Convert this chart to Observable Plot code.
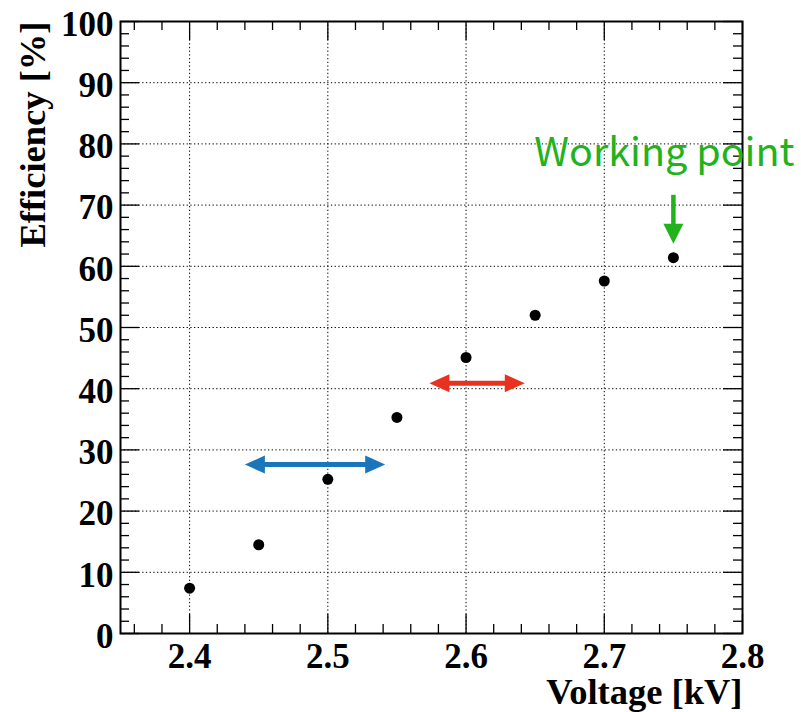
<!DOCTYPE html>
<html>
<head>
<meta charset="utf-8">
<script src="https://cdn.jsdelivr.net/npm/d3@7"></script>
<script src="https://cdn.jsdelivr.net/npm/@observablehq/plot@0.6"></script>
<style>
  html, body { margin: 0; padding: 0; background: #fff; }
  svg { display: block; }
</style>
</head>
<body>
<div id="chart"></div>
<script>
// ---- data ----
const voltage = [2.40, 2.45, 2.50, 2.55, 2.60, 2.65, 2.70, 2.75];
const efficiency = [7.4, 14.5, 25.2, 35.3, 45.1, 52.0, 57.6, 61.4];

const xTicks = [2.4, 2.5, 2.6, 2.7, 2.8];
const yTicks = [0, 10, 20, 30, 40, 50, 60, 70, 80, 90, 100];
const xMinor = d3.range(2.36, 2.8, 0.02).map(v => +v.toFixed(2)).filter(v => !xTicks.some(t => Math.abs(t - v) < 1e-9));
const yMinor = d3.range(2, 100, 2).filter(v => v % 10 !== 0);

const xLabel = "Voltage [kV]";
const yLabel = "Efficiency [%]";

// annotations (data coordinates)
const blueArrow = [{x1: 2.440, x2: 2.5415, y: 27.6}];
const redArrow = [{x1: 2.5735, x2: 2.6425, y: 40.9}];
const greenArrow = [{x: 2.750, y1: 71.6, y2: 63.7}];
const wpLabel = [{x: 2.7435, y: 78.4, text: "Working point"}];

const points = voltage.map((v, i) => ({v, e: efficiency[i]}));

const blue = "#1b75bb", red = "#e8311f", green = "#22b21c";

// filled arrowhead symbols, tip at the anchor point
const headRight = {draw(c) { c.moveTo(0, 0); c.lineTo(-20, -9); c.lineTo(-20, 9); c.closePath(); }};
const headLeft  = {draw(c) { c.moveTo(0, 0); c.lineTo(20, -9); c.lineTo(20, 9); c.closePath(); }};
const headDown  = {draw(c) { c.moveTo(0, 0); c.lineTo(-10, -20); c.lineTo(10, -20); c.closePath(); }};

const W = 801, H = 712, mL = 120, mR = 59, mT = 21, mB = 79;
const innerH = H - mT - mB, innerW = W - mL - mR;
const serif = "Liberation Serif, Times New Roman, serif";

const chart = Plot.plot({
  width: W, height: H,
  marginLeft: mL, marginRight: mR, marginTop: mT, marginBottom: mB,
  style: {background: "#fff", overflow: "visible"},
  x: {domain: [2.35, 2.8]},
  y: {domain: [0, 100]},
  marks: [
    // dotted grid
    Plot.ruleX(xTicks.filter(t => t < 2.8), {x: d => d, stroke: "#000", strokeWidth: 1, strokeDasharray: "1.3,2.4"}),
    Plot.ruleY(yTicks.filter(t => t > 0 && t < 100), {y: d => d, stroke: "#000", strokeWidth: 1, strokeDasharray: "1.3,2.4"}),
    // ticks (inward, all four sides)
    Plot.tickX(xTicks, {x: d => d, insetTop: innerH - 19, stroke: "#000", strokeWidth: 1.3}),
    Plot.tickX(xTicks, {x: d => d, insetBottom: innerH - 19, stroke: "#000", strokeWidth: 1.3}),
    Plot.tickX(xMinor, {x: d => d, insetTop: innerH - 9, stroke: "#000", strokeWidth: 1.3}),
    Plot.tickX(xMinor, {x: d => d, insetBottom: innerH - 9, stroke: "#000", strokeWidth: 1.3}),
    Plot.tickY(yTicks, {y: d => d, insetRight: innerW - 19, stroke: "#000", strokeWidth: 1.3}),
    Plot.tickY(yTicks, {y: d => d, insetLeft: innerW - 19, stroke: "#000", strokeWidth: 1.3}),
    Plot.tickY(yMinor, {y: d => d, insetRight: innerW - 9, stroke: "#000", strokeWidth: 1.3}),
    Plot.tickY(yMinor, {y: d => d, insetLeft: innerW - 9, stroke: "#000", strokeWidth: 1.3}),
    Plot.frame({stroke: "#000", strokeWidth: 2}),
    // axes labels
    Plot.axisX(xTicks, {anchor: "bottom", tickSize: 0, tickPadding: 10, tickFormat: d => d.toFixed(1),
      fontSize: 35, fontFamily: serif, fontWeight: "bold", label: null, fill: "#000"}),
    Plot.axisY(yTicks, {anchor: "left", tickSize: 0, tickPadding: 7, dy: 3,
      fontSize: 35, fontFamily: serif, fontWeight: "bold", label: null, fill: "#000"}),
    Plot.text([xLabel], {text: d => d, frameAnchor: "bottom-right", textAnchor: "end", lineAnchor: "middle",
      dy: 59, fontSize: 36.5, fontFamily: serif, fontWeight: "bold", fill: "#000"}),
    Plot.text([yLabel], {text: d => d, frameAnchor: "top-left", textAnchor: "end", lineAnchor: "middle", rotate: -90,
      dx: -87, fontSize: 36.5, fontFamily: serif, fontWeight: "bold", fill: "#000"}),
    // arrows
    Plot.ruleY(blueArrow, {y: "y", x1: "x1", x2: "x2", stroke: blue, strokeWidth: 5, insetLeft: 15, insetRight: 15}),
    Plot.dot(blueArrow, {x: "x1", y: "y", symbol: headLeft, r: 5, fill: blue, stroke: "none"}),
    Plot.dot(blueArrow, {x: "x2", y: "y", symbol: headRight, r: 5, fill: blue, stroke: "none"}),
    Plot.ruleY(redArrow, {y: "y", x1: "x1", x2: "x2", stroke: red, strokeWidth: 5, insetLeft: 15, insetRight: 15}),
    Plot.dot(redArrow, {x: "x1", y: "y", symbol: headLeft, r: 5, fill: red, stroke: "none"}),
    Plot.dot(redArrow, {x: "x2", y: "y", symbol: headRight, r: 5, fill: red, stroke: "none"}),
    Plot.ruleX(greenArrow, {x: "x", y1: "y1", y2: "y2", stroke: green, strokeWidth: 4.5, insetBottom: 15}),
    Plot.dot(greenArrow, {x: "x", y: "y2", symbol: headDown, r: 5, fill: green, stroke: "none"}),
    Plot.text(wpLabel, {x: "x", y: "y", text: "text", textAnchor: "middle", lineAnchor: "middle",
      fontSize: 39.5, fontFamily: "Noto Sans CJK JP, Noto Sans, sans-serif", fill: green}),
    // data points
    Plot.dot(points, {x: "v", y: "e", r: 5.5, fill: "#000", stroke: "none"})
  ]
});
document.getElementById("chart").appendChild(chart);
</script>
</body>
</html>
